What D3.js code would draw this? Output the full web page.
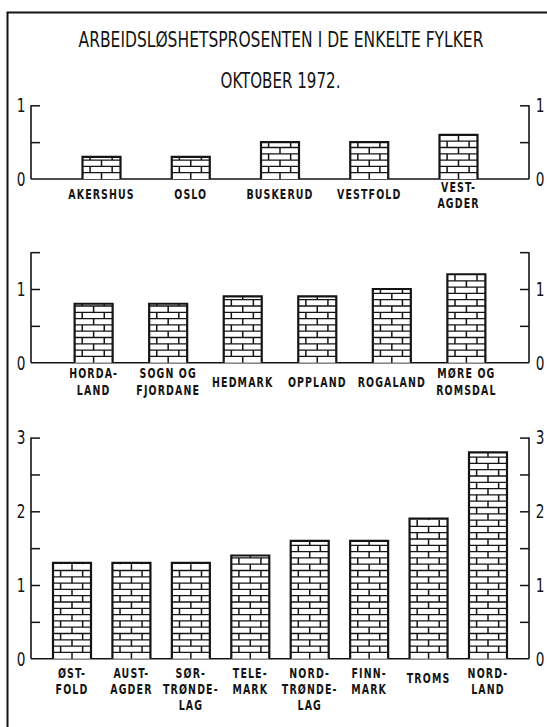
<!DOCTYPE html>
<html>
<head>
<meta charset="utf-8">
<script src="https://cdn.jsdelivr.net/npm/d3@7"></script>
<style>
  html, body { margin: 0; padding: 0; background: #fff; }
  svg { display: block; }
  text { font-family: "DejaVu Sans Condensed", "Liberation Sans Narrow", sans-serif; fill: #141414; }
</style>
</head>
<body>
<div id="chart"></div>
<script>
// values (unemployment %, October 1972)
const title = "ARBEIDSLØSHETSPROSENTEN I DE ENKELTE FYLKER";
const subtitle = "OKTOBER 1972.";

const fylker1 = [["AKERSHUS"], ["OSLO"], ["BUSKERUD"], ["VESTFOLD"], ["VEST-", "AGDER"]];
const values1 = [0.3, 0.3, 0.5, 0.5, 0.6];
const ticks1 = [0, 1];

const fylker2 = [["HORDA-", "LAND"], ["SOGN OG", "FJORDANE"], ["HEDMARK"], ["OPPLAND"], ["ROGALAND"], ["MØRE OG", "ROMSDAL"]];
const values2 = [0.8, 0.8, 0.9, 0.9, 1.0, 1.2];
const ticks2 = [0, 1];

const fylker3 = [["ØST-", "FOLD"], ["AUST-", "AGDER"], ["SØR-", "TRØNDE-", "LAG"], ["TELE-", "MARK"],
    ["NORD-", "TRØNDE-", "LAG"], ["FINN-", "MARK"], ["TROMS"], ["NORD-", "LAND"]];
const values3 = [1.3, 1.3, 1.3, 1.4, 1.6, 1.6, 1.9, 2.8];
const ticks3 = [0, 1, 2, 3];

const width = 547, height = 727;
const axisLeft = 31, axisRight = 529;
const unit = 73.7;       // px per percentage point, same in all three panels
const barW = 38;
const rowH = 6.3;        // brick row height

const panels = [
    {names: fylker1, values: values1, ticks: ticks1, max: 1, base: 179, pad: 0.79, first: 13, lh: 16.5, single: 20},
    {names: fylker2, values: values2, ticks: ticks2, max: 1.5, base: 362.7, pad: 0.84, first: 15.5, lh: 16.5, single: 24},
    {names: fylker3, values: values3, ticks: ticks3, max: 3, base: 658.7, pad: 0.69, first: 19, lh: 16.3, single: 24.5}
];

const svg = d3.select("#chart")
    .append("svg")
    .attr("width", width)
    .attr("height", height);

// frame (left and top edge of the page box)
svg.append("path")
    .attr("d", `M7.5,${height} V12.5 H${width}`)
    .attr("fill", "none")
    .attr("stroke", "#141414")
    .attr("stroke-width", 2);

// narrow lettering: measure the text, then squeeze it to the width it has on the sheet
function squeezed(sel, s, cx, cy, size, target) {
    const t = sel.append("text")
        .attr("text-anchor", "middle")
        .attr("font-size", size)
        .text(s);
    const w = t.node().getComputedTextLength();
    t.attr("transform", `translate(${cx},${cy}) scale(${target / w},1)`);
    return t;
}

squeezed(svg, title, 281, 47, 20.5, 405);
squeezed(svg, subtitle, 280.5, 88, 20.5, 120);

panels.forEach(p => {
    const g = svg.append("g");
    const x = d3.scalePoint()
        .domain(d3.range(p.values.length))
        .range([axisLeft, axisRight])
        .padding(p.pad);
    const y = d3.scaleLinear()
        .domain([0, p.max])
        .range([p.base, p.base - p.max * unit]);

    // axes: left and right verticals with inward ticks every 0.5
    const halfTicks = d3.range(0.5, p.max + 0.01, 0.5);
    const left = d3.axisRight(y).tickValues(halfTicks).tickSize(9).tickFormat("");
    const right = d3.axisLeft(y).tickValues(halfTicks).tickSize(9).tickFormat("");
    [[left, axisLeft], [right, axisRight]].forEach(([ax, xp]) => {
        const a = g.append("g").attr("transform", `translate(${xp},0)`).call(ax);
        a.select(".domain").remove();
        a.selectAll("line").attr("stroke", "#141414").attr("stroke-width", 1.5);
        a.append("line")
            .attr("x1", 0).attr("x2", 0)
            .attr("y1", y(0)).attr("y2", y(p.max))
            .attr("stroke", "#141414").attr("stroke-width", 1.6);
    });

    g.append("line")
        .attr("x1", axisLeft).attr("x2", axisRight)
        .attr("y1", y(0)).attr("y2", y(0))
        .attr("stroke", "#141414").attr("stroke-width", 1.6);

    p.ticks.forEach(t => {
        [21, 540].forEach(tx => {
            g.append("text")
                .attr("transform", `translate(${tx},${y(t)}) scale(0.8,1)`)
                .attr("dy", "0.36em")
                .attr("text-anchor", "middle")
                .attr("font-size", 19)
                .text(t);
        });
    });

    // bars with brick fill
    p.values.forEach((v, i) => {
        const cx = x(i), x0 = cx - barW / 2, x1 = cx + barW / 2;
        const yt = y(v), yb = y(0);
        const bar = g.append("g");
        bar.append("rect")
            .attr("x", x0).attr("y", yt)
            .attr("width", barW).attr("height", yb - yt)
            .attr("fill", "#fff");

        let k = 0;
        for (let ry = yb; ry > yt + 0.5; ry -= rowH, k++) {
            const top = Math.max(ry - rowH, yt);
            if (ry - rowH > yt + 1.5) {
                bar.append("line")
                    .attr("x1", x0).attr("x2", x1)
                    .attr("y1", ry - rowH).attr("y2", ry - rowH)
                    .attr("stroke", "#141414").attr("stroke-width", 1.3);
            }
            const joints = k % 2 === 0 ? [0.5] : [0.2, 0.78];
            joints.forEach(f => {
                bar.append("line")
                    .attr("x1", x0 + f * barW).attr("x2", x0 + f * barW)
                    .attr("y1", top).attr("y2", ry)
                    .attr("stroke", "#141414").attr("stroke-width", 1.5);
            });
        }

        bar.append("path")
            .attr("d", `M${x0},${yb} V${yt} H${x1} V${yb}`)
            .attr("fill", "none")
            .attr("stroke", "#141414")
            .attr("stroke-width", 2.2);

        // category label: one text, a tspan per printed row
        const lines = p.names[i];
        const lab = g.append("text")
            .attr("transform", `translate(${cx},${yb + (lines.length === 1 ? p.single : p.first)}) scale(0.75,1)`)
            .attr("text-anchor", "middle")
            .attr("font-size", 14)
            .attr("font-weight", "bold")
            .attr("letter-spacing", 1.5);
        lines.forEach((s, j) => {
            lab.append("tspan")
                .attr("x", 0)
                .attr("y", j * p.lh)
                .text(s);
        });
    });
});
</script>
</body>
</html>
